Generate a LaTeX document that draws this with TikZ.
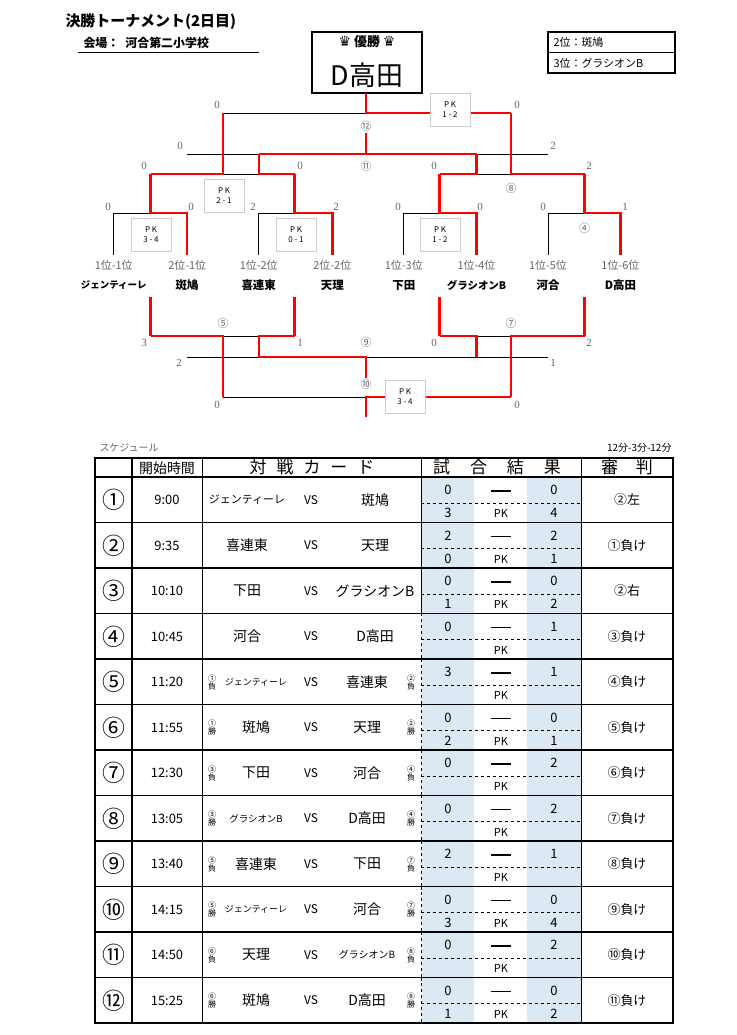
\documentclass[tikz,border=0pt]{standalone}
\usepackage{fontspec}
\setmainfont{Noto Sans CJK JP}
\newfontfamily\serifjp{Liberation Serif}
\newfontfamily\dejavu{DejaVu Sans}
\newcommand{\fs}[1]{\fontsize{#1}{#1}\selectfont}
\definecolor{lblue}{RGB}{220,232,243}
\tikzset{
  bk/.style={black,line width=1bp},
  rd/.style={red,line width=2.4bp},
  sc/.style={text=gray!80!black,font=\serifjp\fs{11}},
  rn/.style={text=gray!80!black,font=\fs{11}},
  leaf/.style={text=gray!80!black,font=\fs{11}},
  team/.style={font=\bfseries\fs{11.5}},
  pkbox/.style={draw=gray!40,fill=white,line width=1bp,minimum width=40bp,minimum height=33bp,align=center,font=\fs{8},inner sep=1bp},
  tb/.style={line width=1.2bp},
  cell/.style={font=\fs{13}}
}
\begin{document}
\begin{tikzpicture}[x=1bp,y=-1bp]
\useasboundingbox[fill=white] (0,0) rectangle (737,1035);
\node[anchor=west,font=\bfseries\fs{15}] (title) at (62,22) {決勝トーナメント(2日目)};
\node[anchor=west,font=\bfseries\fs{12}] (venue) at (80,43) {会場：\hspace{6bp}河合第二小学校};
\draw[line width=1bp] (78,52) -- (259,52);
\node[draw,line width=1.8bp,minimum width=110bp,minimum height=61bp] (champ) at (367,62.5) {};
\node[font=\bfseries\fs{13}] (win) at (367,42) {{\dejavu\fs{14}♛} 優勝 {\dejavu\fs{14}♛}};
\node[font=\fs{27}] (champname) at (367,75) {D高田};
\draw[line width=1.5bp] (548,32) rectangle (675,73);
\draw[line width=1bp] (548,52.5) -- (675,52.5);
\node[anchor=west,font=\fs{11}] (second) at (550,42) {2位：斑鳩};
\node[anchor=west,font=\fs{11}] (third) at (550,63) {3位：グラシオンB};

\draw[bk] (113.7,255)--(113.7,213)--(150.6,213);
\draw[bk] (258.7,255)--(258.7,213)--(294.5,213);
\draw[bk] (403.8,255)--(403.8,213)--(439.6,213);
\draw[bk] (548,255)--(548,213)--(584.6,213);
\draw[rd] (150.6,174)--(150.6,213)--(187.2,213)--(187.2,255);
\draw[rd] (294.5,174)--(294.5,213)--(332.3,213)--(332.3,255);
\draw[rd] (439.6,174)--(439.6,213)--(476.5,213)--(476.5,255);
\draw[rd] (584.6,174)--(584.6,213)--(620.4,213)--(620.4,255);
\draw[bk] (150.6,174)--(294.5,174);
\draw[bk] (439.6,174)--(584.6,174);
\draw[bk] (187,154)--(548,154);
\draw[bk] (223,113)--(512,113);
\draw[rd] (150.6,174)--(223,174)--(223,113);
\draw[rd] (294.5,174)--(258.7,174)--(258.7,154);
\draw[rd] (439.6,174)--(476.5,174)--(476.5,154);
\draw[rd] (584.6,174)--(511,174)--(511,113);
\draw[rd] (258.7,154)--(476.5,154);
\draw[rd] (366,154)--(366,133);
\draw[rd] (366,93)--(366,113)--(511,113);
\node[pkbox] (pk1) at (151,235) {P K\\[2bp]3 - 4};
\node[pkbox] (pk2) at (296,235) {P K\\[2bp]0 - 1};
\node[pkbox] (pk3) at (440,235) {P K\\[2bp]1 - 2};
\node[pkbox] (pk6) at (224,196) {P K\\[2bp]2 - 1};
\node[pkbox] (pk12) at (450,110) {P K\\[2bp]1 - 2};
\node[rn] (r12) at (366,126) {⑫};
\node[rn] (r11) at (366,166) {⑪};
\node[rn] (r8) at (511,188) {⑧};
\node[rn] (r4) at (584.6,228) {④};
\node[sc] at (108,207) {0}; \node[sc] at (191,207) {0};
\node[sc] at (253,207) {2}; \node[sc] at (336,207) {2};
\node[sc] at (398,207) {0}; \node[sc] at (480,207) {0};
\node[sc] at (543,207) {0}; \node[sc] at (625,207) {1};
\node[sc] at (144,166) {0}; \node[sc] at (300,166) {0};
\node[sc] at (434,166) {0}; \node[sc] at (589,166) {2};
\node[sc] at (180,146) {0}; \node[sc] at (553,146) {2};
\node[sc] at (217,105) {0}; \node[sc] at (517,105) {0};
\foreach \x/\s/\n [count=\k] in {113.7/1位-1位/ジェンティーレ,187.2/2位-1位/斑鳩,258.7/1位-2位/喜連東,332.3/2位-2位/天理,403.8/1位-3位/下田,476.5/1位-4位/グラシオンB,548/1位-5位/河合,620.4/1位-6位/D高田}{
  \node[leaf] (seed\k) at (\x,265) {\s};
  \node[team] (team\k) at (\x,285) {\ifnum\k=1 \fs{9.5}\fi\ifnum\k=6 \fs{10.5}\fi \n};
}
\draw[rd] (150.6,297)--(150.6,336); \draw[rd] (294.5,297)--(294.5,336);
\draw[rd] (439.6,297)--(439.6,336); \draw[rd] (584.6,297)--(584.6,336);
\draw[bk] (150.6,336)--(294.5,336);
\draw[bk] (439.6,336)--(584.6,336);
\draw[bk] (187,357)--(548,357);
\draw[bk] (223,397)--(511,397);
\draw[rd] (150.6,336)--(223,336)--(223,397);
\draw[rd] (294.5,336)--(258.7,336)--(258.7,357);
\draw[rd] (439.6,336)--(476.5,336)--(476.5,357);
\draw[rd] (584.6,336)--(511,336)--(511,397);
\draw[rd] (258.7,357)--(366,357)--(366,378);
\draw[rd] (366,417)--(366,397)--(511,397);
\node[pkbox] (pk10) at (405,397) {P K\\[2bp]3 - 4};
\node[rn] (r5) at (223,323) {⑤};
\node[rn] (r7) at (511,323) {⑦};
\node[rn] (r9) at (366,342) {⑨};
\node[rn,fill=white,inner sep=1bp] (r10) at (366,384) {⑩};
\node[sc] at (144,343) {3}; \node[sc] at (300,343) {1};
\node[sc] at (434,343) {0}; \node[sc] at (589,343) {2};
\node[sc] at (179,363) {2}; \node[sc] at (553,363) {1};
\node[sc] at (217,405) {0}; \node[sc] at (517,405) {0};

\node[anchor=west,font=\fs{10},text=gray!80!black] (sched) at (96,448) {スケジュール};
\node[anchor=east,font=\fs{10}] (fmt) at (675,448) {12分-3分-12分};
\fill[lblue] (421.5,477) rectangle (474,1023);
\fill[lblue] (527,477) rectangle (581.5,1023);
\node[font=\fs{14}] (h1) at (167,468) {開始時間};
\node[font=\fs{17}] (h2) at (312,467) {対\hspace{10bp}戦\hspace{10bp}カ\hspace{10bp}ー\hspace{10bp}ド};
\node[font=\fs{17}] (h3) at (497,467) {試\hspace{20bp}合\hspace{20bp}結\hspace{20bp}果};
\node[font=\fs{17}] (h4) at (627,467) {審\hspace{18bp}判};
\foreach \i/\t/\L/\R/\a/\b/\p/\q/\j/\ln/\lw/\rn/\rw [count=\k] in {
 ①/9:00/{\fs{11}ジェンティーレ}/斑鳩/0/0/3/4/②左/{}/{}/{}/{},
 ②/9:35/喜連東/天理/2/2/0/1/①負け/{}/{}/{}/{},
 ③/10:10/下田/グラシオンB/0/0/1/2/②右/{}/{}/{}/{},
 ④/10:45/河合/D高田/0/1/{}/{}/③負け/{}/{}/{}/{},
 ⑤/11:20/{\fs{9}ジェンティーレ}/喜連東/3/1/{}/{}/④負け/①/負/②/負,
 ⑥/11:55/斑鳩/天理/0/0/2/1/⑤負け/①/勝/②/勝,
 ⑦/12:30/下田/河合/0/2/{}/{}/⑥負け/③/負/④/負,
 ⑧/13:05/{\fs{9.5}グラシオンB}/D高田/0/2/{}/{}/⑦負け/③/勝/④/勝,
 ⑨/13:40/喜連東/下田/2/1/{}/{}/⑧負け/⑤/負/⑦/負,
 ⑩/14:15/{\fs{9}ジェンティーレ}/河合/0/0/3/4/⑨負け/⑤/勝/⑦/勝,
 ⑪/14:50/天理/{\fs{10}グラシオンB}/0/2/{}/{}/⑩負け/⑥/負/⑧/負,
 ⑫/15:25/斑鳩/D高田/0/0/1/2/⑪負け/⑥/勝/⑧/勝}{
  \pgfmathsetmacro{\yy}{477+(\k-1)*45.5}
  \draw[dashed,line width=0.9bp] (421.5,\yy+26) -- (581.5,\yy+26);
  \draw[tb] (95,\yy+45.5) -- (673,\yy+45.5);
  \ifnum\k>3 \draw[dashed,line width=0.9bp] (421.5,\yy) -- (421.5,\yy+45.5);
  \else \draw[tb] (421.5,\yy) -- (421.5,\yy+45.5); \fi
  \node[font=\fs{23}] (no\k) at (113.5,\yy+23) {\i};
  \node[cell] (time\k) at (167,\yy+23) {\t};
  \node[font=\fs{12}] (vs\k) at (311,\yy+23) {VS};
  \ifnum\k<5
    \node[font=\fs{14}] (l\k) at (247,\yy+23) {\L};
    \node[font=\fs{14}] (r\k) at (375,\yy+23) {\R};
  \else
    \node[font=\fs{14}] (l\k) at (256,\yy+23) {\L};
    \node[font=\fs{14}] (r\k) at (367,\yy+23) {\R};
    \node[font=\fs{8},align=center,inner sep=0pt] (lt\k) at (212,\yy+23) {\ln\\\lw};
    \node[font=\fs{8},align=center,inner sep=0pt] (rt\k) at (411,\yy+23) {\rn\\\rw};
  \fi
  \node[cell] (a\k) at (448,\yy+13) {\a};
  \node[cell] (b\k) at (554,\yy+13) {\b};
  \draw[line width=1.3bp] (491,\yy+14) -- (511,\yy+14);
  \node[cell] (p\k) at (448,\yy+36) {\p};
  \node[font=\fs{11}] (pk\k) at (501,\yy+36.5) {PK};
  \node[cell] (q\k) at (554,\yy+36) {\q};
  \node[cell] (j\k) at (627,\yy+23) {\j};
}
\draw[tb] (95,477) -- (673,477);
\draw[line width=1.6bp] (95,458) rectangle (673,1023);
\foreach \x in {132,202.5,581.5}{\draw[tb] (\x,458) -- (\x,1023);}
\draw[tb] (421.5,458) -- (421.5,477);
\end{tikzpicture}
\end{document}
